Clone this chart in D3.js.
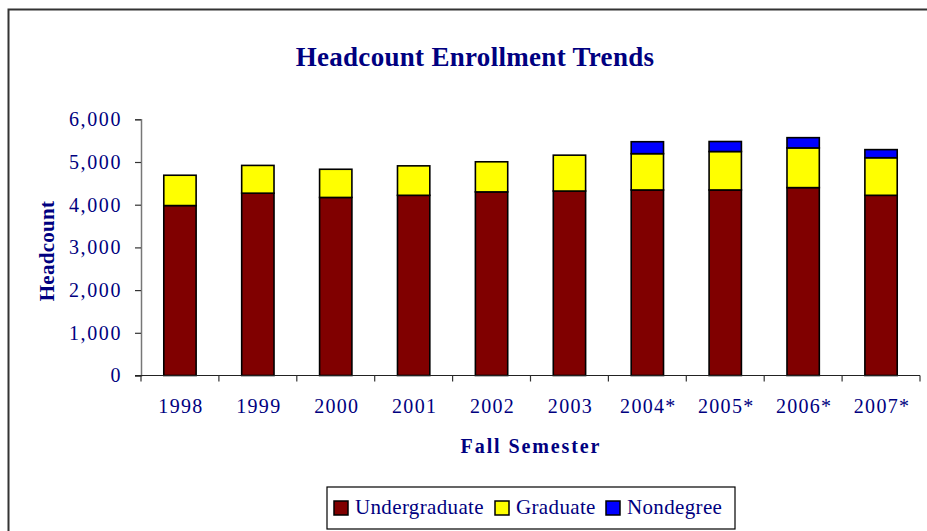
<!DOCTYPE html>
<html>
<head>
<meta charset="utf-8">
<script src="https://cdn.jsdelivr.net/npm/d3@7"></script>
<style>
  body { margin: 0; background: #fff; }
  text { font-family: "Liberation Serif", "Times New Roman", serif; fill: #000080; }
</style>
</head>
<body>
<svg id="chart" width="927" height="531"></svg>
<script>
// values
const years = ['1998', '1999', '2000', '2001', '2002', '2003', '2004*', '2005*', '2006*', '2007*'];
const undergraduate = [3980, 4270, 4170, 4220, 4300, 4320, 4345, 4345, 4400, 4220];
const graduate = [710, 650, 660, 690, 705, 840, 850, 900, 930, 880];
const nondegree = [0, 0, 0, 0, 0, 0, 280, 235, 240, 190];
const seriesNames = ['Undergraduate', 'Graduate', 'Nondegree'];
const seriesColors = ['#800000', '#ffff00', '#0000ff'];
const yTicks = [0, 1000, 2000, 3000, 4000, 5000, 6000];

const svg = d3.select('#chart');

// outer chart frame (its right/bottom edges run off the picture)
svg.append('rect')
  .attr('x', 8.5).attr('y', 9.5)
  .attr('width', 940).attr('height', 540)
  .attr('fill', 'none').attr('stroke', '#333').attr('stroke-width', 2);

const x = d3.scaleBand()
  .domain(years)
  .range([141, 920])
  .paddingInner(0.585)
  .paddingOuter(0.2925);

const y = d3.scaleLinear()
  .domain([0, 6000])
  .range([375.5, 119.3]);

// build rows for d3.stack
const rows = years.map((yr, i) => ({
  year: yr,
  Undergraduate: undergraduate[i],
  Graduate: graduate[i],
  Nondegree: nondegree[i],
}));
const stacked = d3.stack().keys(seriesNames)(rows);

// title
svg.append('text')
  .attr('x', 475).attr('y', 66)
  .attr('text-anchor', 'middle')
  .attr('font-weight', 'bold')
  .attr('font-size', 27)
  .attr('letter-spacing', 0.3)
  .text('Headcount Enrollment Trends');

// y axis
const yAxis = svg.append('g')
  .attr('transform', 'translate(141,0)')
  .call(d3.axisLeft(y).tickValues(yTicks).tickSize(6).tickPadding(13)
    .tickFormat(d3.format(',')));
yAxis.select('.domain').attr('stroke', '#777').attr('stroke-width', 1.5);
yAxis.selectAll('.tick line').attr('stroke', '#333').attr('stroke-width', 1.2);
yAxis.selectAll('.tick text')
  .attr('font-size', 20)
  .attr('letter-spacing', 1.6)
  .attr('font-family', '"Liberation Serif", serif')
  .attr('fill', '#000080');

// bars
svg.append('g')
  .selectAll('g')
  .data(stacked)
  .join('g')
  .attr('fill', (d, i) => seriesColors[i])
  .selectAll('rect')
  .data(d => d.filter(p => p[1] - p[0] > 0))
  .join('rect')
  .attr('x', d => x(d.data.year))
  .attr('y', d => y(d[1]))
  .attr('width', x.bandwidth())
  .attr('height', d => y(d[0]) - y(d[1]))
  .attr('stroke', '#000')
  .attr('stroke-width', 1.6);

// x axis line with boundary ticks
const xg = svg.append('g');
xg.append('line')
  .attr('x1', 135).attr('x2', 920)
  .attr('y1', y(0)).attr('y2', y(0))
  .attr('stroke', '#222').attr('stroke-width', 1.2);
const bounds = years.map(yr => x(yr) - x.step() * x.paddingInner() / 2)
  .concat([x(years[years.length - 1]) + x.bandwidth() + x.step() * x.paddingInner() / 2]);
xg.selectAll('line.tk')
  .data(bounds)
  .join('line')
  .attr('class', 'tk')
  .attr('x1', d => d).attr('x2', d => d)
  .attr('y1', y(0)).attr('y2', y(0) + 6)
  .attr('stroke', '#333').attr('stroke-width', 1.2);
xg.selectAll('text')
  .data(years)
  .join('text')
  .attr('x', d => x(d) + x.bandwidth() / 2 + 1)
  .attr('y', 413)
  .attr('text-anchor', 'middle')
  .attr('font-size', 20)
  .attr('letter-spacing', 1.3)
  .text(d => d);

// axis titles
svg.append('text')
  .attr('x', 531).attr('y', 453)
  .attr('text-anchor', 'middle')
  .attr('font-weight', 'bold')
  .attr('font-size', 20)
  .attr('letter-spacing', 1.9)
  .text('Fall Semester');

svg.append('text')
  .attr('transform', 'translate(54,251) rotate(-90)')
  .attr('text-anchor', 'middle')
  .attr('font-weight', 'bold')
  .attr('font-size', 21)
  .attr('letter-spacing', 0.3)
  .text('Headcount');

// legend
const legend = svg.append('g');
legend.append('rect')
  .attr('x', 327).attr('y', 487)
  .attr('width', 408).attr('height', 42)
  .attr('fill', '#fff').attr('stroke', '#000').attr('stroke-width', 1.2);
const legendX = [334, 495, 606];
const items = legend.selectAll('g.item')
  .data(seriesNames)
  .join('g')
  .attr('class', 'item')
  .attr('transform', (d, i) => `translate(${legendX[i]},501)`);
items.append('rect')
  .attr('width', 14).attr('height', 14)
  .attr('fill', (d, i) => seriesColors[i])
  .attr('stroke', '#000').attr('stroke-width', 1.5);
items.append('text')
  .attr('x', 21).attr('y', 13)
  .attr('font-size', 21)
  .attr('letter-spacing', 0.35)
  .text(d => d);
</script>
</body>
</html>
